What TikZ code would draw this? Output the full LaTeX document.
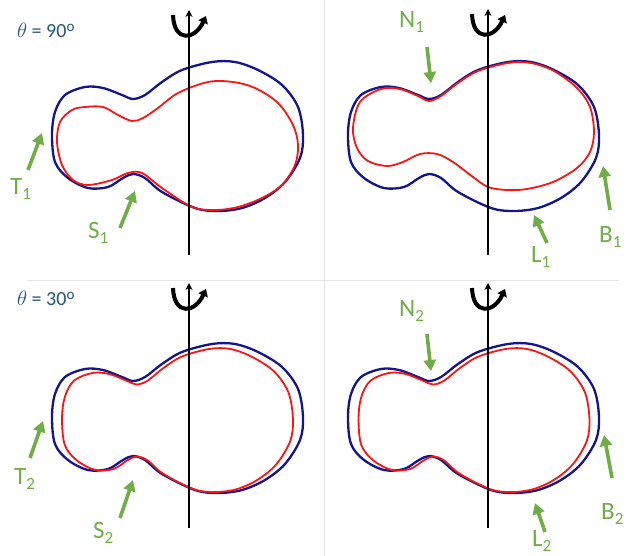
\documentclass[tikz,border=0pt]{standalone}
\usepackage{fontspec}
\setmainfont{Carlito}
\usetikzlibrary{arrows.meta}
\definecolor{navy}{RGB}{20,20,140}
\definecolor{cred}{RGB}{250,20,20}
\definecolor{cgreen}{RGB}{112,173,71}
\definecolor{tblue}{RGB}{38,84,124}
\definecolor{sepgray}{RGB}{228,228,228}
\newcommand\lsub[1]{\raisebox{-5pt}{\fontsize{17}{17}\selectfont #1}}
\newcommand\peanutB[1]{\draw[#1] plot[smooth cycle, tension=0.55] coordinates {(133,99) (145,95) (162,82) (182,70) (212,62) (235,62) (258,70) (282,85) (298,107) (303,135) (300,158) (285,182) (265,198) (242,208) (218,211) (195,208) (162,192) (145,178) (133,174) (123,178) (108,187) (88,188) (68,178) (55,162) (52,135) (55,112) (65,95) (85,87) (103,88) (122,95)};}
\newcommand\peanutRa[1]{\draw[#1] plot[smooth cycle, tension=0.55] coordinates {(132,121) (143,118) (158,108) (178,93) (208,82) (233,82) (255,88) (278,103) (293,125) (298,145) (295,165) (282,185) (262,198) (238,207) (215,210) (192,207) (162,188) (142,173) (128,173) (112,180) (88,185) (73,180) (62,165) (57,142) (60,122) (72,110) (85,107) (103,107) (118,115)};}
\newcommand\peanutRb[1]{\draw[#1] plot[smooth cycle, tension=0.55] coordinates {(429,101) (441,96) (458,83) (478,71) (508,63) (531,63) (554,71) (577,88) (590,107) (594,132) (590,152) (577,168) (553,182) (527,189) (507,190) (488,187) (473,177) (453,162) (437,154) (420,154) (403,162) (387,166) (368,161) (357,148) (353,128) (360,102) (381,89) (400,89) (418,96)};}
\newcommand\rotsym[2]{\draw[rotarrow] (#1-16,#2+5) .. controls (#1-15,#2+33) and (#1+6,#2+30) .. (#1+17,#2+6);}
\begin{document}
\begin{tikzpicture}[x=1pt,y=-1pt,
  blueline/.style={draw=navy,line width=2.3pt},
  redline/.style={draw=cred,line width=1.8pt},
  axisline/.style={draw=black,line width=1.4pt,-{Stealth[length=7pt,width=7pt]}},
  rotarrow/.style={draw=black,line width=4pt,-{Triangle[length=7pt,width=10pt]}},
  ptr/.style={draw=cgreen,line width=3.6pt,-{Triangle[length=11pt,width=12pt]}},
  lbl/.style={text=cgreen,font=\fontsize{25}{25}\selectfont,inner sep=0pt,anchor=base west},
  ttl/.style={text=tblue,font=\fontsize{20}{20}\selectfont,inner sep=0pt,anchor=base west},
  sepline/.style={draw=sepgray,line width=1pt}]
\useasboundingbox (0,0) rectangle (634,556);
% separators
\draw[sepline] (324,0) -- (324,556);
\draw[sepline] (27,280) -- (619,280);
% titles
\node[ttl] (th90) at (17,38) {$\theta$ = 90\raisebox{6pt}{\fontsize{15}{15}\selectfont o}};
\node[ttl] (th30) at (17,305) {$\theta$ = 30\raisebox{6pt}{\fontsize{15}{15}\selectfont o}};
% shapes panel 1
\peanutB{blueline}
\peanutRa{redline}
% panel 2
\peanutB{blueline,shift={(296,0)}}
\peanutRb{redline}
% panel 3
\peanutB{blueline,shift={(0,282)}}
\peanutB{redline,shift={(0,284)},shift={(177.5,136.5)},xscale=0.92,yscale=0.96,shift={(-177.5,-136.5)}}
% panel 4
\peanutB{blueline,shift={(296,282)}}
\peanutB{redline,shift={(296.5,284)},shift={(177.5,136.5)},xscale=0.92,yscale=0.96,shift={(-177.5,-136.5)}}
% axes
\coordinate (a1b) at (189,255); \coordinate (a1t) at (189,10);
\coordinate (a2b) at (488,255); \coordinate (a2t) at (488,9);
\coordinate (a3b) at (189,528); \coordinate (a3t) at (189,283);
\coordinate (a4b) at (488,528); \coordinate (a4t) at (488,283);
\draw[axisline] (a1b) -- (a1t);
\draw[axisline] (a2b) -- (a2t);
\draw[axisline] (a3b) -- (a3t);
\draw[axisline] (a4b) -- (a4t);
\rotsym{189}{10}
\rotsym{488}{9}
\rotsym{189}{283}
\rotsym{488}{283}
% pointer coordinates
\coordinate (t1a) at (28,170); \coordinate (t1b) at (42,133);
\coordinate (s1a) at (120,228); \coordinate (s1b) at (135,191);
\coordinate (n1a) at (427,47); \coordinate (n1b) at (431,83);
\coordinate (b1a) at (610,210); \coordinate (b1b) at (603,166);
\coordinate (l1a) at (547,243); \coordinate (l1b) at (534,215);
\coordinate (t2a) at (30,458); \coordinate (t2b) at (43,421);
\coordinate (s2a) at (120,518); \coordinate (s2b) at (133,480);
\coordinate (n2a) at (427,334); \coordinate (n2b) at (431,371);
\coordinate (b2a) at (612,478); \coordinate (b2b) at (604,435);
\coordinate (l2a) at (545,532); \coordinate (l2b) at (535,503);
\draw[ptr] (t1a) -- (t1b);
\draw[ptr] (s1a) -- (s1b);
\draw[ptr] (n1a) -- (n1b);
\draw[ptr] (b1a) -- (b1b);
\draw[ptr] (l1a) -- (l1b);
\draw[ptr] (t2a) -- (t2b);
\draw[ptr] (s2a) -- (s2b);
\draw[ptr] (n2a) -- (n2b);
\draw[ptr] (b2a) -- (b2b);
\draw[ptr] (l2a) -- (l2b);
% labels
\node[lbl] (T1) at (10,195) {T\lsub{1}};
\node[lbl] (S1) at (88,238) {S\lsub{1}};
\node[lbl] (N1) at (399,28) {N\lsub{1}};
\node[lbl] (B1) at (599,242) {B\lsub{1}};
\node[lbl] (L1) at (531,262) {L\lsub{1}};
\node[lbl] (T2) at (14,484) {T\lsub{2}};
\node[lbl] (S2) at (93,538) {S\lsub{2}};
\node[lbl] (N2) at (399,316) {N\lsub{2}};
\node[lbl] (B2) at (601,519) {B\lsub{2}};
\node[lbl] (L2) at (532,546) {L\lsub{2}};
\end{tikzpicture}
\end{document}
